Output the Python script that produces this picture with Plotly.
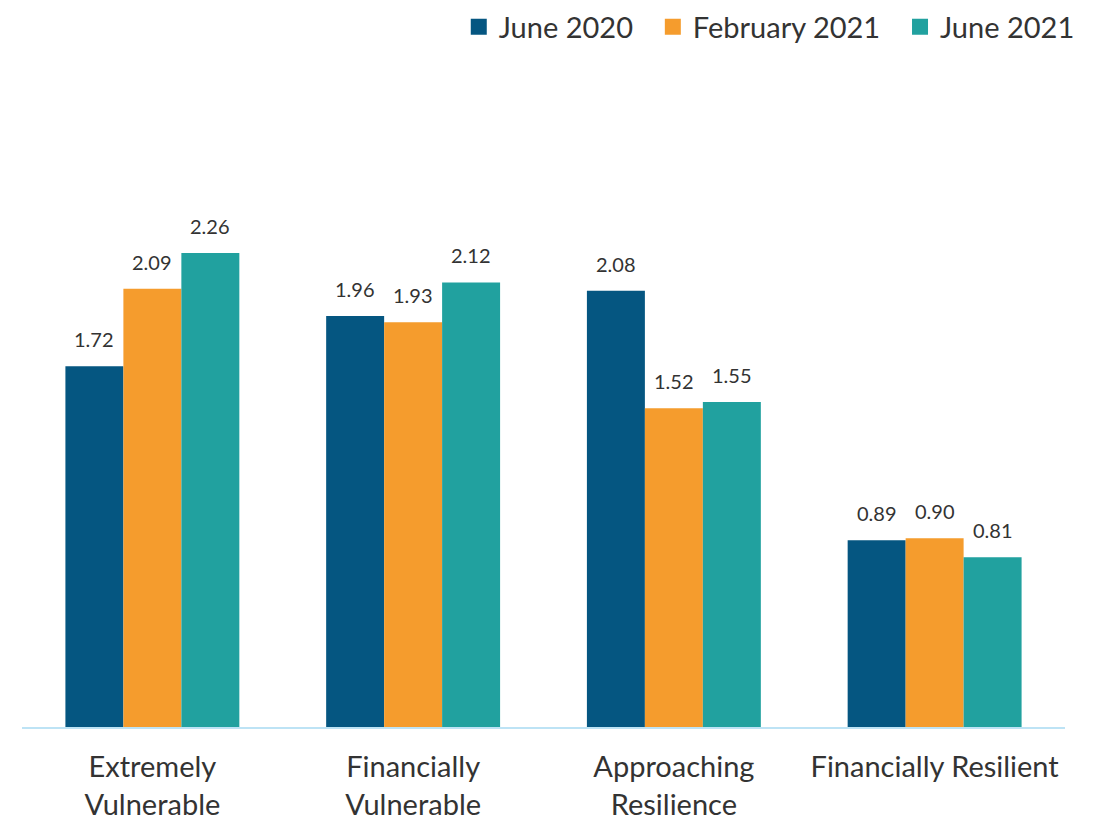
import plotly.graph_objects as go

categories = ["Extremely<br>Vulnerable", "Financially<br>Vulnerable", "Approaching<br>Resilience", "Financially Resilient"]
series_names = ["June 2020", "February 2021", "June 2021"]
june_2020 = [1.72, 1.96, 2.08, 0.89]
feb_2021 = [2.09, 1.93, 1.52, 0.90]
june_2021 = [2.26, 2.12, 1.55, 0.81]
colors = ["#055681", "#F59C2D", "#21A19F"]

FONT = "Lato, Noto Sans, sans-serif"
TXT = "#333333"

W, H = 1097, 822
ML, MR, MT, MB = 14, 40, 87, 103
BARGAP = 0.333
plot_w = W - ML - MR
plot_h = H - MT - MB
bar_px = plot_w / len(categories) * (1 - BARGAP) / len(series_names)

fig = go.Figure()
all_series = [june_2020, feb_2021, june_2021]
n = len(series_names)
for j, (name, vals, col) in enumerate(zip(series_names, all_series, colors)):
    fig.add_trace(go.Bar(
        x=categories, y=vals, name=name, marker_color=col, marker_line_width=0,
        showlegend=False,
    ))
    # legend proxy with square swatch (extra spacing after all but last entry)
    legend_label = name + ("\u00a0\u00a0" if j < n - 1 else "")
    fig.add_trace(go.Scatter(
        x=[None], y=[None], mode="markers", name=legend_label,
        marker=dict(symbol="square", size=17, color=col), showlegend=True,
    ))
    for c, v in zip(categories, vals):
        fig.add_annotation(
            x=c, y=v, text=f"{v:.2f}", showarrow=False,
            xshift=(j - 1) * bar_px, yshift=27, yanchor="middle",
            font=dict(size=20, color=TXT, family=FONT),
        )

fig.update_layout(
    width=W, height=H,
    barmode="group", bargap=BARGAP, bargroupgap=0,
    margin=dict(l=ML, r=MR, t=MT, b=MB),
    paper_bgcolor="white", plot_bgcolor="white",
    font=dict(family=FONT, color=TXT, size=29),
    showlegend=True,
    legend=dict(orientation="h", xref="container", yref="container",
                x=0.977, xanchor="right", y=1 - 19 / H, yanchor="middle",
                font=dict(size=29, color=TXT), traceorder="normal",
                itemwidth=30, bgcolor="rgba(0,0,0,0)"),
)
fig.update_xaxes(showline=True, linecolor="#BDE3F5", linewidth=2, ticks="",
                 tickfont=dict(size=29, color=TXT), ticklabelstandoff=13,
                 automargin=False)
fig.update_yaxes(range=[0, plot_h / 209.7], showgrid=False, showticklabels=False,
                 zeroline=False, showline=False)

fig.write_html("out.html")
